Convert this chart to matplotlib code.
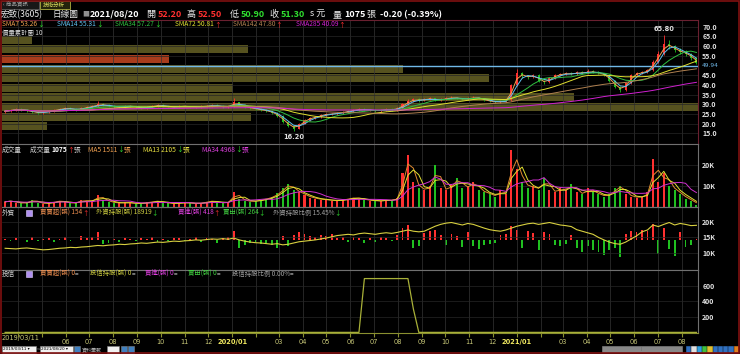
import numpy as np
import pandas as pd
import matplotlib
matplotlib.use('Agg')
import matplotlib.pyplot as plt
import matplotlib.dates as mdates
from matplotlib.patches import Rectangle

plt.rcParams['font.family'] = ['Noto Sans CJK TC', 'DejaVu Sans']
plt.rcParams['axes.facecolor'] = 'black'

# ---------------- data (weekly) ----------------
week_end = pd.date_range('2019-03-15', periods=128, freq='W-FRI')
first_open = 26.0
close = [26.5, 27.0, 27.5, 27.0, 26.5, 26.0, 25.5, 26.0, 26.5, 27.0, 27.5, 28.0, 27.5, 27.0, 28.0, 28.5,
         29.0, 30.0, 29.5, 29.0, 28.5, 28.5, 29.0, 29.0, 28.5, 28.0, 28.5, 29.0, 29.5, 29.0, 28.5, 28.5,
         29.0, 29.0, 28.5, 28.5, 29.0, 29.0, 29.5, 29.0, 28.5, 29.0, 31.0, 29.5, 28.5, 28.0, 27.5, 27.0,
         26.5, 25.5, 24.0, 21.0, 19.0, 17.5, 20.0, 22.0, 23.0, 23.5, 24.5, 25.0, 25.0, 25.5, 26.0, 26.5,
         27.0, 27.5, 27.0, 27.0, 26.5, 27.0, 27.5, 27.0, 28.0, 30.0, 31.5, 32.5, 32.0, 32.5, 33.0, 32.0,
         32.5, 33.0, 33.5, 33.0, 32.5, 33.0, 33.5, 33.0, 32.0, 31.5, 31.0, 31.5, 32.0, 40.0, 46.0, 44.5,
         44.0, 45.0, 42.0, 41.5, 43.5, 45.0, 45.5, 46.0, 45.5, 46.5, 46.0, 47.0, 46.5, 46.0, 45.0, 42.0,
         39.0, 37.5, 41.0, 45.0, 46.0, 46.5, 47.5, 52.0, 56.0, 61.0, 60.0, 58.0, 57.0, 56.0, 54.0, 51.3]
high = [27.2, 27.6, 28.2, 28.0, 27.4, 26.9, 26.4, 26.6, 27.0, 27.5, 28.1, 28.6, 28.4, 27.9, 28.5, 29.0,
        29.6, 31.5, 30.6, 29.9, 29.4, 29.0, 29.5, 29.6, 29.3, 28.9, 29.0, 29.5, 30.1, 29.9, 29.3, 29.0,
        29.5, 29.6, 29.3, 29.0, 29.5, 29.6, 30.2, 29.9, 29.4, 29.6, 33.2, 31.4, 29.9, 28.9, 28.4, 27.9,
        27.4, 26.9, 25.9, 24.3, 21.4, 19.5, 20.5, 22.6, 23.6, 24.1, 25.0, 25.6, 25.6, 26.1, 26.6, 27.1,
        27.6, 28.1, 27.9, 27.6, 27.4, 27.5, 28.1, 27.9, 28.6, 30.8, 32.6, 33.4, 33.0, 33.2, 33.8, 33.5,
        33.1, 33.7, 34.3, 34.0, 33.5, 33.6, 34.5, 34.0, 33.4, 32.4, 31.9, 32.0, 32.6, 40.5, 48.0, 46.8,
        45.2, 45.8, 45.4, 42.6, 44.0, 45.6, 46.2, 46.8, 46.6, 47.2, 47.0, 48.0, 47.6, 47.0, 46.4, 45.4,
        42.4, 39.6, 41.6, 45.6, 46.8, 47.2, 48.3, 52.8, 57.5, 65.8, 63.0, 60.8, 59.0, 58.0, 56.5, 54.5]
low = [25.6, 26.2, 26.7, 26.5, 26.0, 25.4, 25.0, 25.1, 25.7, 26.1, 26.8, 27.2, 27.0, 26.5, 26.8, 27.7,
       28.2, 28.8, 29.0, 28.5, 28.0, 28.0, 28.2, 28.5, 28.0, 27.6, 27.7, 28.2, 28.7, 28.6, 28.0, 28.0,
       28.2, 28.5, 28.1, 28.0, 28.2, 28.6, 28.8, 28.6, 28.0, 28.2, 28.8, 29.0, 28.0, 27.5, 27.0, 26.5,
       26.0, 25.0, 23.4, 20.5, 18.3, 16.2, 17.2, 19.6, 21.6, 22.6, 23.1, 24.1, 24.5, 24.6, 25.1, 25.6,
       26.1, 26.6, 26.5, 26.5, 26.0, 26.1, 26.6, 26.5, 26.7, 27.7, 29.6, 31.0, 31.4, 31.6, 32.0, 31.5,
       31.6, 32.1, 32.6, 32.5, 32.0, 32.1, 32.6, 32.5, 31.6, 31.0, 30.5, 30.6, 31.1, 31.8, 39.5, 43.5,
       43.0, 43.6, 41.4, 40.6, 41.0, 43.0, 44.6, 45.0, 45.0, 45.0, 45.5, 45.6, 46.0, 45.5, 44.4, 41.4,
       38.2, 36.3, 37.0, 40.6, 44.6, 45.6, 46.0, 47.0, 51.5, 55.5, 58.5, 57.0, 56.0, 55.0, 53.0, 50.9]
volume_k = [2.5, 3.0, 2.0, 1.8, 2.2, 3.5, 2.0, 1.5, 2.0, 2.5, 3.0, 2.2, 1.8, 2.0, 3.5, 2.5,
            3.0, 5.5, 3.5, 2.5, 2.0, 1.8, 2.2, 2.0, 1.5, 1.8, 2.2, 2.5, 3.0, 2.0, 1.8, 1.6,
            2.0, 2.2, 1.8, 1.5, 2.0, 2.5, 3.0, 2.2, 1.8, 2.5, 7.0, 4.0, 3.0, 2.5, 3.0, 3.5,
            4.0, 5.0, 6.5, 9.0, 11.0, 8.0, 7.0, 5.5, 4.5, 4.0, 3.5, 3.5, 3.0, 3.0, 3.5, 4.0,
            4.5, 4.0, 3.5, 3.0, 3.0, 2.8, 3.5, 3.0, 4.5, 16.0, 25.0, 12.0, 9.0, 8.0, 10.0, 20.0,
            9.0, 8.0, 11.0, 14.0, 9.0, 10.0, 12.0, 8.0, 7.0, 6.0, 5.0, 8.0, 6.0, 27.0, 18.0, 12.0,
            9.0, 10.0, 8.0, 14.0, 8.0, 7.0, 9.0, 8.0, 11.0, 7.0, 6.0, 9.0, 7.0, 6.0, 5.0, 6.0,
            9.0, 10.0, 6.0, 5.0, 4.5, 5.0, 7.0, 23.0, 12.0, 16.0, 10.0, 8.0, 6.0, 4.0, 3.0, 1.1]
foreign_hold_k = [11.5, 11.4, 11.3, 11.5, 11.6, 11.4, 11.2, 11.0, 11.1, 11.3, 11.5, 11.6, 11.8, 11.7, 11.9, 12.0,
                  12.2, 12.4, 12.3, 12.5, 12.6, 12.8, 12.7, 12.9, 13.0, 13.2, 13.1, 13.3, 13.5, 13.4, 13.6, 13.8,
                  13.7, 13.9, 14.0, 14.2, 14.1, 14.3, 14.5, 14.4, 14.6, 14.4, 14.8, 14.2, 13.8, 13.5, 13.3, 13.2,
                  13.0, 12.8, 13.0, 12.6, 12.8, 13.2, 13.6, 13.8, 14.0, 14.2, 14.5, 14.8, 15.2, 15.6, 15.8, 16.0,
                  15.8, 16.2, 16.4, 16.2, 16.0, 16.3, 16.5, 16.3, 16.6, 17.0, 17.4, 17.0, 16.8, 17.0, 17.8, 18.6,
                  19.2, 19.6, 19.8, 19.4, 19.0, 19.5, 19.2, 18.6, 18.0, 17.5, 17.2, 17.0, 17.4, 18.0, 18.6, 19.0,
                  19.4, 19.6, 19.2, 19.5, 19.8, 19.4, 19.0, 18.8, 18.5, 17.5, 17.0, 16.5, 16.0, 15.0, 14.2, 13.5,
                  13.0, 12.8, 13.5, 14.5, 15.5, 16.8, 17.4, 19.0, 18.5, 19.2, 19.8, 19.0, 19.5, 19.2, 18.8, 18.9]
foreign_net_k = [0.1, -0.1, 0.2, 0.0, -0.2, 0.3, -0.1, 0.1, 0.2, -0.2, 0.1, 0.3, -0.1, 0.0, 0.4, 0.2,
                 0.3, 0.8, -0.4, -0.3, 0.1, -0.2, 0.2, 0.1, -0.1, 0.2, 0.1, 0.3, -0.2, 0.1, -0.1, 0.2,
                 0.2, -0.1, 0.1, 0.3, -0.2, 0.2, 0.1, -0.3, 0.2, 0.3, 0.9, -0.8, -0.5, -0.3, -0.2, -0.4,
                 -0.3, -0.5, -0.8, 0.4, -0.6, 0.5, 0.8, 0.6, 0.4, 0.3, 0.5, 0.4, 0.6, 0.2, 0.3, -0.2,
                 0.3, 0.2, -0.3, 0.2, -0.2, 0.3, 0.2, -0.1, 0.5, 1.2, 1.5, -0.8, -0.6, 0.7, 0.9, 1.0,
                 0.5, -0.5, 0.6, 0.4, -0.7, 0.8, -0.6, -0.9, -0.5, -0.4, -0.3, 0.5, 0.6, 1.4, 1.0, -0.8,
                 0.9, 0.7, -1.0, 0.8, 0.6, -0.5, -0.6, -0.4, 0.5, -0.8, -1.2, -0.6, -1.0, -1.2, -1.5, -1.0,
                 -0.8, -1.7, 0.6, 0.9, 0.8, 1.0, 0.9, 1.6, -1.4, 1.2, -0.9, -1.6, 0.8, -0.7, -0.5, 0.15]
trust_hold = [0] * 66 + [690] * 9 + [300] + [0] * 52
profile_vol = [45, 250, 700, 575, 232, 490, 403, 168, 247, 30]   # 10 price buckets, low -> high
ref_line = 49.94
price_ticks = [15, 20, 25, 30, 35, 40, 45, 55, 60, 65, 70]
price_grid = [15, 20, 25, 30, 35, 40, 45, 50, 55, 60, 65, 70]
vol_ticks = [10, 20]
foreign_ticks = [10, 15, 20]
trust_ticks = [200, 400, 600]
sma_days = [7, 14, 34, 72, 142, 285]
sma_weeks = [2, 3, 7, 14, 28, 57]
sma_colors = ['#f0a050', '#60c0f0', '#30c040', '#e0e030', '#b08050', '#d020d0']
vma_weeks = [2, 3, 7]
vma_colors = ['#e08a30', '#e0e030', '#d030d0']

# ---------------- figure ----------------
W, H = 740, 354
fig = plt.figure(figsize=(7.4, 3.54), dpi=100, facecolor='black')


def fx(x):
    return x / W


def fy(y):
    return 1 - y / H


L, R = 2, 698


def add_ax(top, bottom):
    return fig.add_axes([fx(L), fy(bottom), (R - L) / W, (bottom - top) / H])


axp = add_ax(20, 144)
axv = add_ax(144, 207)
axf = add_ax(207, 270)
axt = add_ax(270, 333)

x = mdates.date2num(week_end)
close = np.array(close)
high = np.array(high)
low = np.array(low)
opens = np.concatenate([[first_open], close[:-1]])
up = close >= opens
RED, GREEN = '#ff3030', '#20c020'
cols = np.where(up, RED, GREEN)
xmin, xmax = mdates.date2num(pd.Timestamp('2019-03-11')), mdates.date2num(pd.Timestamp('2021-08-22'))

months = pd.date_range('2019-04-01', '2021-08-01', freq='MS')
mx = mdates.date2num(months)

# twin axes first (they move the host's ticks), then style everything
axpv = axp.twiny()
axf2 = axf.twinx()


def style_y(ax):
    ax.yaxis.tick_right()
    ax.tick_params(axis='y', which='both', left=False, right=True, labelleft=False, labelright=True,
                   length=0, pad=3, labelsize=5, labelcolor='#e0e0e0')


for ax in (axp, axv, axf, axt):
    ax.set_xlim(xmin, xmax)
    style_y(ax)
    for s in ax.spines.values():
        s.set_color('#707070')
        s.set_linewidth(0.8)
    ax.spines['left'].set_visible(False)
    for m in mx:
        ax.axvline(m, color='#343434', lw=0.5, zorder=0.5)
    ax.set_xticks(mx)
    if ax is not axt:
        ax.tick_params(axis='x', which='both', length=0, labelbottom=False, labeltop=False)

# ---- price panel ----
axpv.set_zorder(axp.get_zorder() - 1)
axp.patch.set_visible(False)
axpv.patch.set_facecolor('black')
edges = np.linspace(low.min(), high.max(), len(profile_vol) + 1)
centers = (edges[:-1] + edges[1:]) / 2
bw = edges[1] - edges[0]
pcols = ['#a83c1c' if (edges[k] <= close[-1] < edges[k + 1]) else '#56521f' for k in range(len(profile_vol))]
axpv.barh(centers, profile_vol, height=bw * 0.84, left=0, color=pcols)
axpv.set_xlim(0, max(profile_vol))
axpv.set_xticks([])
axpv.set_yticks([])
for s in axpv.spines.values():
    s.set_visible(False)

axp.set_ylim(9.5, 73.5)
axp.set_yticks(price_ticks)
axp.set_yticklabels([f'{t:.1f}' for t in price_ticks], fontweight='bold')
for t in price_grid:
    axp.axhline(t, color='#262626', lw=0.5, zorder=0.5)
for s in axp.spines.values():
    s.set_color('#6a2030')
axp.spines['left'].set_visible(False)

axp.axhline(ref_line, color='#70b8e8', lw=1.0, zorder=2)
axp.vlines(x, low, high, colors=cols, lw=0.6, zorder=3)
axp.bar(x, np.maximum(np.abs(close - opens), 0.15), bottom=np.minimum(opens, close), width=2.6,
        color=cols, zorder=3)
s_close = pd.Series(close)
for w, c in zip(sma_weeks, sma_colors):
    axp.plot(x, s_close.rolling(w, min_periods=1).mean(), color=c, lw=0.7, zorder=4)

ihi = int(np.argmax(high))
ilo = int(np.argmin(low))
axp.annotate(f'{high[ihi]:.2f}', (x[ihi], high[ihi]), xytext=(0, 2), textcoords='offset points',
             ha='center', va='bottom', color='#e0e0e0', fontsize=4.8, fontweight='bold', family='DejaVu Sans')
axp.annotate(f'{low[ilo]:.2f}', (x[ilo], low[ilo]), xytext=(0, -2), textcoords='offset points',
             ha='center', va='top', color='#e0e0e0', fontsize=4.8, fontweight='bold', family='DejaVu Sans')
axp.annotate(f'{ref_line:.2f}', (1.0, ref_line), xycoords=('axes fraction', 'data'), xytext=(3, 0),
             textcoords='offset points', ha='left', va='center', color='#70b8e8', fontsize=4.2,
             family='DejaVu Sans', annotation_clip=False)

# ---- volume panel ----
vol = np.array(volume_k)
axv.bar(x, vol, width=2.6, color=cols, zorder=2)
s_vol = pd.Series(vol)
for w, c in zip(vma_weeks, vma_colors):
    axv.plot(x, s_vol.rolling(w, min_periods=1).mean(), color=c, lw=0.7, zorder=3)
axv.set_ylim(0, 30)
axv.set_yticks(vol_ticks)
axv.set_yticklabels([f'{t}K' for t in vol_ticks], fontweight='bold')
for t in vol_ticks:
    axv.axhline(t, color='#262626', lw=0.5, zorder=0.5)

# ---- foreign panel ----
axf2.set_zorder(axf.get_zorder() - 1)
axf.patch.set_visible(False)
axf2.patch.set_facecolor('black')
net = np.array(foreign_net_k)
axf2.bar(x, net, width=2.4, color=np.where(net >= 0, RED, GREEN))
axf2.set_ylim(-3.0, 3.3)
axf2.set_yticks([])
axf2.tick_params(axis='both', length=0, labelleft=False, labelright=False)
for s in axf2.spines.values():
    s.set_visible(False)
axf.plot(x, foreign_hold_k, color='#d8d040', lw=0.8, zorder=3)
axf.set_ylim(4.5, 24.8)
axf.set_yticks(foreign_ticks)
axf.set_yticklabels([f'{t}K' for t in foreign_ticks], fontweight='bold')
style_y(axf)
for t in foreign_ticks:
    axf.axhline(t, color='#262626', lw=0.5, zorder=0.5)

# ---- trust panel ----
axt.plot(x, trust_hold, color='#a8b038', lw=0.9, zorder=3, clip_on=False)
axt.set_ylim(-8, 800)
axt.set_yticks(trust_ticks)
axt.set_yticklabels([str(t) for t in trust_ticks], fontweight='bold')
for t in trust_ticks:
    axt.axhline(t, color='#262626', lw=0.5, zorder=0.5)
axt.spines['bottom'].set_color('#8a9030')
labels = []
for d in months:
    if d.month == 1:
        labels.append(f'{d.year}/01')
    elif (d.year, d.month) in [(2019, 4), (2019, 5), (2020, 2), (2021, 2)]:
        labels.append('')
    else:
        labels.append(f'{d.month:02d}')
axt.set_xticks(mx)
axt.set_xticklabels(labels, family='DejaVu Sans')
axt.tick_params(axis='x', length=3, color='#8a9030', pad=1.5, labelsize=4.8, labelcolor='#c8c878')
for lab, d in zip(axt.get_xticklabels(), months):
    if d.month == 1:
        lab.set_fontweight('bold')
        lab.set_color('#f0e860')
axt.text(0.0, -0.03, '2019/03/11', transform=axt.transAxes, ha='left', va='top', fontsize=4.8,
         color='#c8c878', family='DejaVu Sans')

# ---------------- header / labels ----------------
fig.canvas.draw()
rend = fig.canvas.get_renderer()


def seq(x0, y0, parts, size=5, weight='normal'):
    xx = x0
    for p in parts:
        txt, col = p[0], p[1]
        wt = p[2] if len(p) > 2 else weight
        t = fig.text(fx(xx), fy(y0), txt, color=col, fontsize=size, va='center', ha='left', fontweight=wt)
        xx += t.get_window_extent(renderer=rend).width


WHITE = '#e8e8e8'
UPC, DNC = '#ff3030', '#30e030'
# tabs
fig.add_artist(Rectangle((fx(1), fy(9)), fx(38), 8 / H, transform=fig.transFigure,
                         facecolor='#181818', edgecolor='#606060', lw=0.6))
fig.add_artist(Rectangle((fx(40), fy(9)), fx(30), 8 / H, transform=fig.transFigure,
                         facecolor='#24240c', edgecolor='#b0b040', lw=0.6))
fig.text(fx(3), fy(5), '‹ 商品資訊', color='#a0a0a0', fontsize=4, va='center')
fig.text(fx(43), fy(5), '技術分析', color='#e0e060', fontsize=4, va='center')

seq(1, 14.5, [('宏致(3605)', WHITE)], size=6.2)
seq(52, 14.5, [('日線圖', WHITE)], size=6.2)
seq(82, 14.5, [('■', '#909090')], size=5)
seq(90, 14.5, [('2021/08/20', 'white', 'bold')], size=6.5)
seq(147, 14.5, [('開 ', WHITE), ('52.20', UPC, 'bold')], size=6.5)
seq(187, 14.5, [('高 ', WHITE), ('52.50', UPC, 'bold')], size=6.5)
seq(230, 14.5, [('低 ', WHITE), ('50.90', DNC, 'bold')], size=6.5)
seq(270, 14.5, [('收 ', WHITE), ('51.30', DNC, 'bold')], size=6.5)
seq(310, 14.5, [('s 元', WHITE)], size=6.5)
seq(333, 14.5, [('量 ', WHITE), ('1075', 'white', 'bold'), (' 張', WHITE)], size=6.5)
seq(380, 14.5, [('-0.20 (-0.39%)', 'white', 'bold')], size=6.5)

sma_vals = ['53.26', '55.31', '57.27', '50.81', '47.80', '40.09']
sma_dir = ['↓', '↓', '↓', '↑', '↑', '↑']
sma_x = [2, 57, 115, 175, 233, 296]
for d, v, a, c, xx in zip(sma_days, sma_vals, sma_dir, sma_colors, sma_x):
    seq(xx, 24.5, [(f'SMA{d} {v}', c), (a, UPC if a == '↑' else DNC)], size=4.8)
seq(2, 32.5, [('價量累計圖 10', '#d8d8d8')], size=4.6)

seq(2, 150, [('成交量', '#d0d0d0')], size=4.8)
seq(30, 150, [('成交量 ', '#d0d0d0'), ('1075', 'white', 'bold'), ('↑', UPC), ('張', '#d0d0d0')], size=4.8)
seq(88, 150, [('MA5 1511', '#f0a050'), ('↓', DNC), ('張', '#f0a050')], size=4.8)
seq(143, 150, [('MA13 2105', '#e8e040'), ('↓', DNC), ('張', '#e8e040')], size=4.8)
seq(202, 150, [('MA34 4968', '#e040e0'), ('↓', DNC), ('張', '#e040e0')], size=4.8)

for yy, name in [(212.5, '外資'), (274, '投信')]:
    seq(2, yy, [(name, '#d0d0d0')], size=4.8)
    fig.add_artist(Rectangle((fx(26), fy(yy + 3)), 6 / W, 6 / H, transform=fig.transFigure,
                             facecolor='#b090f0', edgecolor='#e0d0ff', lw=0.4))
seq(40, 212.5, [('買賣超(張) 154', '#f09050'), ('↑', UPC)], size=4.6)
seq(96, 212.5, [('外資持股(張) 18919', '#d0d040'), ('↓', DNC)], size=4.6)
seq(178, 212.5, [('買進(張) 418', '#e040e0'), ('↑', UPC)], size=4.6)
seq(223, 212.5, [('賣出(張) 264', '#40d040'), ('↓', DNC)], size=4.6)
seq(273, 212.5, [('外資持股比例 15.45%', '#a0a0a0'), ('↓', DNC)], size=4.6)
seq(40, 274, [('買賣超(張) 0', '#f09050'), ('=', WHITE)], size=4.6)
seq(90, 274, [('投信持股(張) 0', '#d0d040'), ('=', WHITE)], size=4.6)
seq(145, 274, [('買進(張) 0', '#e040e0'), ('=', WHITE)], size=4.6)
seq(188, 274, [('賣出(張) 0', '#40d040'), ('=', WHITE)], size=4.6)
seq(232, 274, [('投信持股比例 0.00%', '#a0a0a0'), ('=', WHITE)], size=4.6)


# ---------------- bottom toolbar ----------------
def box(x0, y0, w, h, fc, ec='#808080'):
    fig.add_artist(Rectangle((fx(x0), fy(y0 + h)), w / W, h / H, transform=fig.transFigure,
                             facecolor=fc, edgecolor=ec, lw=0.4))


box(2, 346, 34, 7, '#f0f0f0')
fig.text(fx(3), fy(349.5), '2019/03/11 ▾', fontsize=3, color='black', va='center', family='DejaVu Sans')
fig.text(fx(37), fy(349.5), '~', fontsize=4, color='#c0c0c0', va='center')
box(40, 346, 33, 7, '#f0f0f0')
fig.text(fx(41), fy(349.5), '2021/08/20 ▾', fontsize=3, color='black', va='center', family='DejaVu Sans')
box(74, 346, 6, 7, '#4080c0')
fig.text(fx(82), fy(349.5), '資料筆數', fontsize=3.6, color='#b0b0b0', va='center')
box(107, 346, 12, 7, '#f0f0f0')
box(121, 346, 6, 7, '#4080c0')
box(128, 346, 6, 7, '#4080c0')
box(602, 346, 80, 6, '#888888', '#888888')
fig.text(fx(642), fy(349), '||', fontsize=3, color='#505050', va='center', ha='center')
for k, c in enumerate(['#3070c0', '#e0e0e0', '#30a0e0', '#40c040', '#e0c030', '#3070c0',
                       '#3070c0', '#3070c0', '#3070c0', '#e08020']):
    box(686 + k * 5.3, 346, 4.3, 6, c, c)

fig.add_artist(Rectangle((0.001, 0.002), 0.997, 0.996, transform=fig.transFigure, fill=False,
                         edgecolor='#801010', lw=1.2))

fig.savefig('out.png', dpi=100, facecolor='black')
